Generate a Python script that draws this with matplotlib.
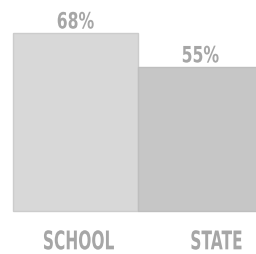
import matplotlib
matplotlib.use("Agg")
import matplotlib.pyplot as plt
from matplotlib.textpath import TextPath
from matplotlib.patches import PathPatch
from matplotlib.font_manager import FontProperties
from matplotlib.transforms import Affine2D

categories = ["SCHOOL", "STATE"]
values = [68, 55]
value_labels = ["68%", "55%"]
bar_colors = ["#d8d8d8", "#c6c6c6"]
edge_colors = ["#cccccc", "#bebebe"]

W, H = 256, 254
fig = plt.figure(figsize=(W / 100, H / 100), dpi=100)
ax = fig.add_axes([0, 0, 1, 1])
ax.set_xlim(-0.6016, 1.4464)
ax.set_ylim(-16.69, 80.77)
ax.axis("off")

xs = [0, 1]
ax.bar(xs, values, width=1.0, color=bar_colors, edgecolor=edge_colors, linewidth=1)

prop = FontProperties(family="DejaVu Sans", weight="bold")
text_color = "#a6a6a6"


def squeezed_text(s, ref, x_disp, y_disp, width_ref, height, anchor="bottom"):
    """Draw condensed text (scaled so that `ref` is width_ref px wide, `height` px tall)."""
    p_ref = TextPath((0, 0), ref, size=100, prop=prop)
    e_ref = p_ref.get_extents()
    sx = width_ref / e_ref.width
    sy = height / e_ref.height
    p = TextPath((0, 0), s, size=100, prop=prop)
    e = p.get_extents()
    cx = (e.x0 + e.x1) / 2
    if anchor == "bottom":
        cy = e.y0
    else:
        cy = (e.y0 + e.y1) / 2
    tr = Affine2D().translate(-cx, -cy).scale(sx, sy).translate(x_disp, y_disp)
    patch = PathPatch(p, transform=tr, facecolor=text_color, edgecolor="none")
    fig.add_artist(patch)


fig.canvas.draw()
for x, v, lab in zip(xs, values, value_labels):
    xd, yd = ax.transData.transform((x, v))
    squeezed_text(lab, "68%", xd + 0.5, yd + 4.5, 36, 17, anchor="bottom")

cat_x = [0.03, 1.13]
for x, c in zip(cat_x, categories):
    xd, yd = ax.transData.transform((x, -11.3))
    squeezed_text(c, "SCHOOL", xd, yd, 70, 19.5, anchor="center")

fig.savefig("out.png", dpi=100)
